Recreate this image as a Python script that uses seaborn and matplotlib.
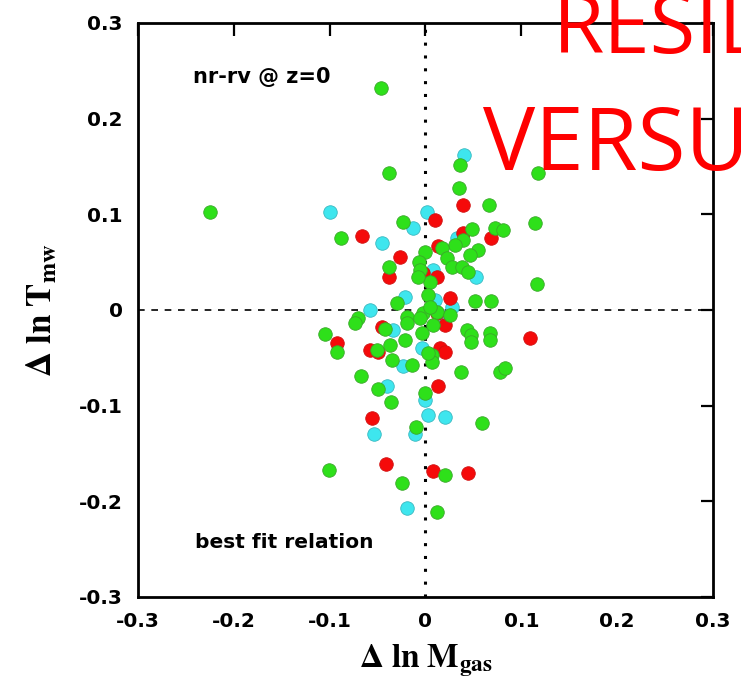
import numpy as np
import pandas as pd
import matplotlib
matplotlib.use("Agg")
import matplotlib.pyplot as plt
import seaborn as sns

# ---- data ----
green_x = [-0.225, -0.046, -0.038, 0.117, 0.114, 0.116, 0.036, 0.035, 0.066, 0.073,
           0.081, 0.049, 0.039, 0.031, 0.017, 0.055, 0.046, 0.022, 0.028, 0.038,
           0.044, 0.000, 0.005, 0.052, 0.068, 0.003, 0.012, 0.026, 0.008, -0.003,
           0.043, 0.048, 0.048, 0.067, 0.067, 0.007, 0.007, 0.037, 0.078, 0.083,
           0.000, 0.059, 0.020, 0.012, -0.067, -0.050, -0.036, -0.010, -0.101, -0.025,
           -0.070, -0.074, -0.105, -0.092, -0.042, -0.030, -0.019, -0.019, -0.006, -0.004,
           -0.021, -0.037, -0.051, -0.035, -0.014, 0.003, -0.023, -0.088, -0.038, -0.007,
           -0.006, -0.008, 0.005]
green_y = [0.102, 0.232, 0.143, 0.143, 0.091, 0.027, 0.152, 0.128, 0.110, 0.086,
           0.084, 0.085, 0.073, 0.068, 0.065, 0.063, 0.057, 0.054, 0.045, 0.045,
           0.040, 0.061, 0.029, 0.009, 0.009, 0.016, -0.002, -0.005, -0.016, -0.003,
           -0.021, -0.026, -0.033, -0.024, -0.031, -0.047, -0.054, -0.065, -0.065, -0.061,
           -0.087, -0.118, -0.172, -0.211, -0.069, -0.083, -0.096, -0.122, -0.167, -0.181,
           -0.008, -0.014, -0.025, -0.044, -0.020, 0.007, -0.007, -0.014, -0.008, -0.024,
           -0.031, -0.037, -0.042, -0.052, -0.058, -0.045, 0.092, 0.075, 0.045, 0.050,
           0.042, 0.034, 0.003]

red_x = [0.039, 0.010, 0.068, 0.039, 0.012, 0.026, 0.020, 0.109, 0.015, 0.020,
         0.013, 0.008, 0.044, -0.056, -0.041, -0.092, -0.045, -0.058, -0.050, -0.066,
         -0.027, 0.013, -0.038, -0.003, 0.012]
red_y = [0.110, 0.094, 0.075, 0.080, 0.034, 0.013, -0.016, -0.029, -0.040, -0.044,
         -0.080, -0.168, -0.170, -0.113, -0.161, -0.035, -0.018, -0.042, -0.044, 0.077,
         0.055, 0.067, 0.034, 0.039, -0.003]

cyan_x = [0.040, 0.002, 0.033, 0.053, 0.008, 0.008, 0.028, 0.018, -0.004, 0.000,
          0.003, 0.020, -0.040, -0.054, -0.011, -0.019, -0.058, -0.034, -0.023, -0.100,
          -0.013, -0.045, -0.021, 0.010]
cyan_y = [0.162, 0.102, 0.075, 0.034, 0.042, 0.008, 0.003, -0.007, -0.040, -0.094,
          -0.110, -0.112, -0.080, -0.130, -0.130, -0.207, 0.000, -0.021, -0.059, 0.102,
          0.086, 0.070, 0.014, 0.010]

ticks = [-0.3, -0.2, -0.1, 0.0, 0.1, 0.2, 0.3]
tick_labels = ["-0.3", "-0.2", "-0.1", "0", "0.1", "0.2", "0.3"]

df = pd.DataFrame({
    "x": cyan_x + green_x + red_x,
    "y": cyan_y + green_y + red_y,
    "set": ["cyan"] * len(cyan_x) + ["green"] * len(green_x) + ["red"] * len(red_x),
})

sns.set_style("white")
plt.rcParams["font.family"] = ["DejaVu Sans"]
plt.rcParams["mathtext.fontset"] = "stix"
plt.rcParams["text.color"] = "black"
plt.rcParams["axes.labelcolor"] = "black"
plt.rcParams["xtick.color"] = "black"
plt.rcParams["ytick.color"] = "black"

fig = plt.figure(figsize=(7.41, 6.85), dpi=100)
ax = fig.add_axes([0.1862, 0.1285, 0.7760, 0.8380])

palette = {"cyan": "#3ee6ee", "green": "#2ee01a", "red": "#f50a0a"}
edges = {"cyan": "#39b8c0", "green": "#3aa82a", "red": "#d01010"}

ax.axhline(0, color="black", lw=1.2, ls=(0, (4, 4)), zorder=1)
ax.axvline(0, color="black", lw=2.2, ls=(0, (1, 3.2)), zorder=1)

for key in ["cyan", "red", "green"]:
    sub = df[df["set"] == key]
    sns.scatterplot(data=sub, x="x", y="y", ax=ax, color=palette[key],
                    edgecolor=edges[key], linewidth=0.6, s=95, zorder=3, legend=False)

ax.set_xlim(-0.3, 0.3)
ax.set_ylim(-0.3, 0.3)
ax.set_xticks(ticks)
ax.set_yticks(ticks)
ax.set_xticklabels(tick_labels)
ax.set_yticklabels(tick_labels)
ax.tick_params(direction="in", length=9, width=1.6, top=True, right=True,
               labelsize=14.5, pad=11, colors="black")
for lab in ax.get_xticklabels() + ax.get_yticklabels():
    lab.set_fontweight("bold")
for sp in ax.spines.values():
    sp.set_linewidth(2.0)
    sp.set_color("black")

ax.set_xlabel(r"$\mathbf{\Delta\ ln\ M_{gas}}$", fontsize=24, labelpad=8, color="black")
ax.set_ylabel(r"$\mathbf{\Delta\ ln\ T_{mw}}$", fontsize=25, labelpad=14, color="black")

ax.text(0.095, 0.905, "nr-rv @ z=0", transform=ax.transAxes, fontsize=15,
        fontweight="bold", ha="left", va="center", color="black")
ax.text(0.10, 0.095, "best fit relation", transform=ax.transAxes, fontsize=14.5,
        fontweight="bold", ha="left", va="center", color="black")

fig.text(553 / 741, 1 - 53 / 685, "RESIDUALS", color="red", fontsize=60,
         family=["Open Sans", "DejaVu Sans"], ha="left", va="baseline")
fig.text(483 / 741, 1 - 170 / 685, "VERSUS", color="red", fontsize=63,
         family=["Open Sans", "DejaVu Sans"], ha="left", va="baseline")

fig.savefig("out.png", dpi=100)
